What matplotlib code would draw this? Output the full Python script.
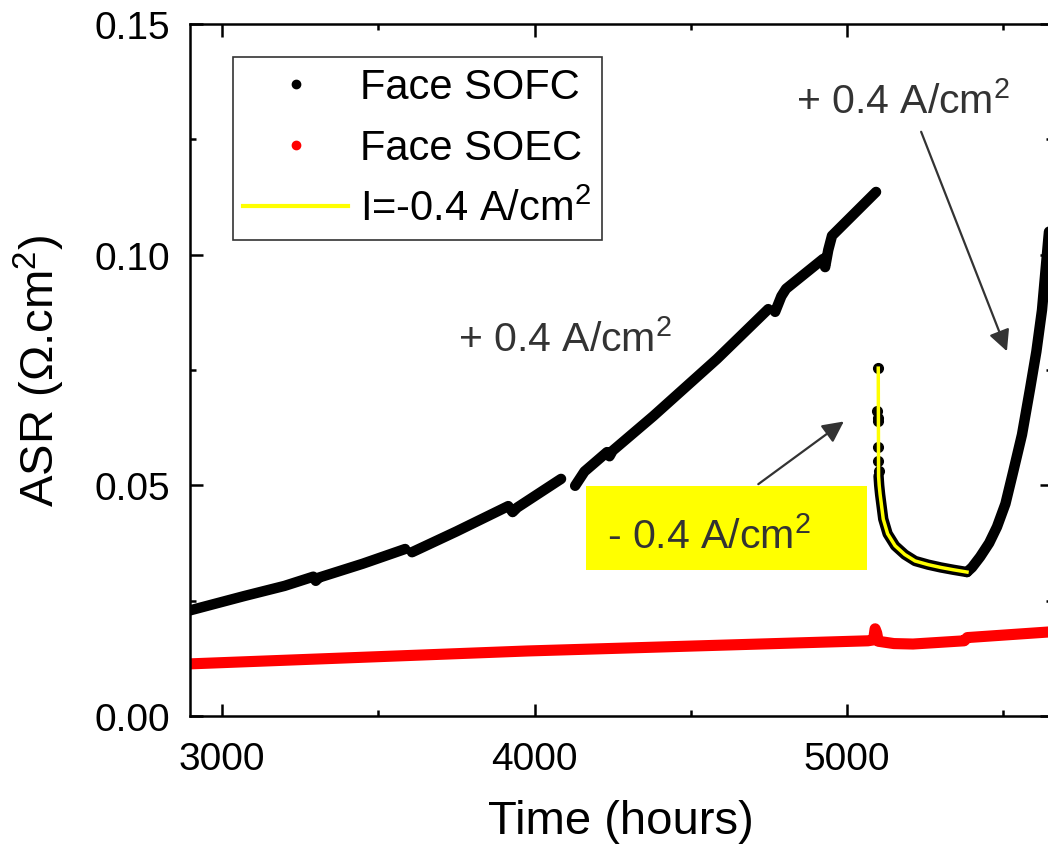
import matplotlib
matplotlib.use('Agg')

import numpy as np
import matplotlib.pyplot as plt
from matplotlib.lines import Line2D
from matplotlib.patches import Rectangle

plt.rcParams['font.family'] = ['Liberation Sans', 'DejaVu Sans']
plt.rcParams['mathtext.fontset'] = 'custom'
plt.rcParams['mathtext.rm'] = 'Liberation Sans'
plt.rcParams['mathtext.it'] = 'Liberation Sans:italic'

# Face SOFC under +0.4 A/cm2 (NaN = break in the record)
sofc_t = [2898, 3071, 3200, 3292, 3300, 3310, 3450, 3586, np.nan,
          3608, 3750, 3916, 3930, 3945, 4085, np.nan,
          4130, 4160, 4232, 4240, 4250, 4380, 4584, 4748, np.nan,
          4770, 4790, 4805, 4924, 4930, 4940, 4952, 5093]
sofc_asr = [0.0229, 0.0260, 0.0282, 0.0302, 0.0293, 0.0300, 0.0330, 0.0362, np.nan,
            0.0355, 0.0400, 0.0455, 0.0442, 0.0452, 0.0514, np.nan,
            0.0499, 0.0530, 0.0572, 0.0563, 0.0575, 0.0650, 0.0774, 0.0882, np.nan,
            0.0876, 0.0910, 0.0926, 0.0991, 0.0973, 0.1010, 0.1041, 0.1136]

# Face SOFC, scattered points right after switching to -0.4 A/cm2
jump_t = [5099, 5097, 5098, 5099, 5100, 5100, 5101]
jump_asr = [0.0754, 0.0662, 0.0645, 0.0640, 0.0583, 0.0553, 0.0530]

# Face SOFC under -0.4 A/cm2, then back to +0.4 A/cm2
neg_t = [5101, 5103, 5106, 5116, 5130, 5154, 5185, 5218, 5260, 5300, 5340, 5384]
neg_asr = [0.0520, 0.0500, 0.0480, 0.0427, 0.0395, 0.0369, 0.0350, 0.0336, 0.0328,
           0.0322, 0.0317, 0.0312]
back_t = [5384, 5400, 5426, 5455, 5480, 5507, 5532, 5560, 5586, 5606, 5624, 5645, 5665]
back_asr = [0.0312, 0.0322, 0.0345, 0.0375, 0.0410, 0.0460, 0.0530, 0.0610, 0.0710,
            0.0790, 0.0880, 0.1040, 0.1180]

# Face SOEC
soec_t = [2898, 3979, 5067, 5085, 5090, 5095, 5100, 5150, 5211, 5375, 5385, 5643, 5665]
soec_asr = [0.0113, 0.0141, 0.0163, 0.0165, 0.0189, 0.0180, 0.0162, 0.0157, 0.0156,
            0.0163, 0.0170, 0.0182, 0.0182]

# yellow trace: I = -0.4 A/cm2
yel_t = [5100] + neg_t
yel_asr = [0.0754] + neg_asr

fig = plt.figure(figsize=(10.48, 8.45), dpi=100)
ax = fig.add_axes([190 / 1048, 128 / 845, 862 / 1048, 692 / 845])

lw = 7.5
ax.plot(soec_t, soec_asr, color='red', lw=8, solid_capstyle='round', zorder=2)
ax.plot(sofc_t, sofc_asr, color='black', lw=lw, solid_capstyle='round', zorder=3)
ax.plot(neg_t, neg_asr, color='black', lw=lw, solid_capstyle='round', zorder=3)
ax.plot(back_t, back_asr, color='black', lw=lw, solid_capstyle='round', zorder=3)
ax.plot(jump_t, jump_asr, 'o', color='black', ms=7, zorder=3)
ax.plot(yel_t, yel_asr, color='yellow', lw=2.5, zorder=4)

ax.set_xlim(2897.6, 5656)
ax.set_ylim(0, 0.15)
ax.set_xticks([3000, 4000, 5000])
ax.set_xticks([3500, 4500, 5500], minor=True)
ax.set_yticks([0.0, 0.05, 0.10, 0.15])
ax.set_yticklabels(['0.00', '0.05', '0.10', '0.15'])
ax.set_yticks([0.025, 0.075, 0.125], minor=True)

ax.tick_params(which='both', direction='in', top=True, right=True, width=1.8)
ax.tick_params(which='major', length=9, labelsize=28)
ax.tick_params(axis='x', which='major', pad=18)
ax.tick_params(axis='y', which='major', pad=14)
ax.tick_params(which='minor', length=4.5)
for s in ax.spines.values():
    s.set_linewidth(1.8)

ax.set_xlabel('Time (hours)', fontsize=34, labelpad=16)
ax.set_ylabel('ASR (Ω.cm$^2$)', fontsize=34, labelpad=20)

grey = '#333333'
ax.text(5180, 0.1309, '+ 0.4 A/cm$^2$', fontsize=29.5, color=grey, ha='center', va='baseline')
ax.text(4098, 0.0791, '+ 0.4 A/cm$^2$', fontsize=29.5, color=grey, ha='center', va='baseline')
ax.annotate('', xy=(5515, 0.0785), xytext=(5234, 0.1272),
            arrowprops=dict(arrowstyle='-|>', color=grey, lw=1.6, mutation_scale=32))
ax.annotate('', xy=(4997, 0.0642), xytext=(4709, 0.0499),
            arrowprops=dict(arrowstyle='-|>', color=grey, lw=1.6, mutation_scale=32))
ax.add_patch(Rectangle((4165, 0.03165), 899, 0.01821, facecolor='yellow',
                       edgecolor='none', zorder=1))
ax.text(4232, 0.0366, '- 0.4 A/cm$^2$', fontsize=29.5, color=grey, ha='left',
        va='baseline', zorder=5)

handles = [
    Line2D([], [], marker='o', ls='none', color='black', ms=6),
    Line2D([], [], marker='o', ls='none', color='red', ms=6),
    Line2D([], [], color='yellow', lw=3),
]
labels = ['Face SOFC', 'Face SOEC', 'I=-0.4 A/cm$^2$']
leg = fig.legend(handles, labels, loc='upper left', bbox_to_anchor=(233 / 1048, 1 - 58 / 845),
                 fontsize=30, frameon=True, fancybox=False, edgecolor='black',
                 handlelength=2.5, handletextpad=0.3, labelspacing=0.5,
                 borderpad=0.25, borderaxespad=0)
leg.get_frame().set_linewidth(1.2)

fig.savefig('out.png', dpi=100)
